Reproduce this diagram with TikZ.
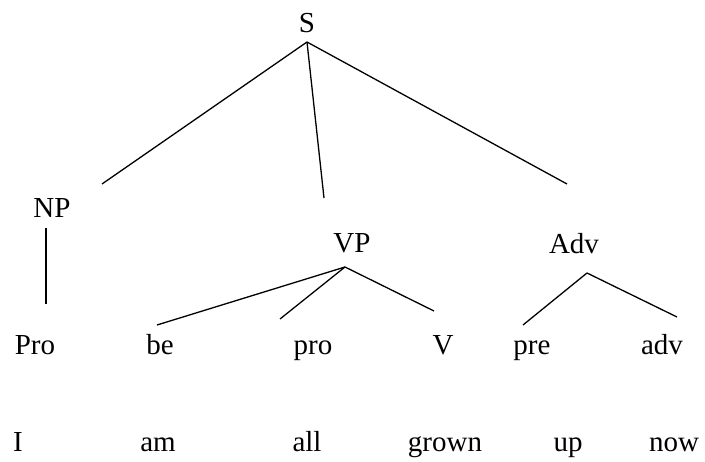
\documentclass[tikz,border=0pt]{standalone}
\usepackage{fontspec}
\setmainfont{Liberation Serif}
\begin{document}
\begin{tikzpicture}[x=1pt,y=-1pt,
  lab/.style={anchor=base,inner sep=0pt,font=\fontsize{29}{34}\selectfont},
  edge/.style={draw=black,line width=1.3pt}]
\useasboundingbox[fill=white] (0,0) rectangle (705,462);
% labels
\node[lab] (S) at (307,33) {S};
\node[lab] (NP) at (52,218) {NP};
\node[lab] (VP) at (352,253) {VP};
\node[lab] (Adv) at (574,254) {Adv};
\node[lab] (Pro) at (35,355) {Pro};
\node[lab] (be) at (160,355) {be};
\node[lab] (pro) at (313,355) {pro};
\node[lab] (V) at (443,355) {V};
\node[lab] (pre) at (532,355) {pre};
\node[lab] (adv) at (662,355) {adv};
\node[lab] (w1) at (18,452) {I};
\node[lab] (w2) at (158,452) {am};
\node[lab] (w3) at (307,452) {all};
\node[lab] (w4) at (445,452) {grown};
\node[lab] (w5) at (568,452) {up};
\node[lab] (w6) at (674,452) {now};
% connector ends
\coordinate (Sa) at (307,42);
\coordinate (NPt) at (102,184);
\coordinate (VPt) at (324,198);
\coordinate (Advt) at (567,184);
\coordinate (NPb) at (46,228);
\coordinate (Prot) at (46,304);
\coordinate (VPa) at (345,267);
\coordinate (bet) at (157,325);
\coordinate (prot) at (280,319);
\coordinate (Vt) at (434,311);
\coordinate (Adva) at (587,273);
\coordinate (pret) at (523,325);
\coordinate (advt) at (677,317);
% connectors
\draw[edge] (Sa) -- (NPt);
\draw[edge] (Sa) -- (VPt);
\draw[edge] (Sa) -- (Advt);
\draw[edge] (NPb) -- (Prot);
\draw[edge] (VPa) -- (bet);
\draw[edge] (VPa) -- (prot);
\draw[edge] (VPa) -- (Vt);
\draw[edge] (Adva) -- (pret);
\draw[edge] (Adva) -- (advt);
\end{tikzpicture}
\end{document}
